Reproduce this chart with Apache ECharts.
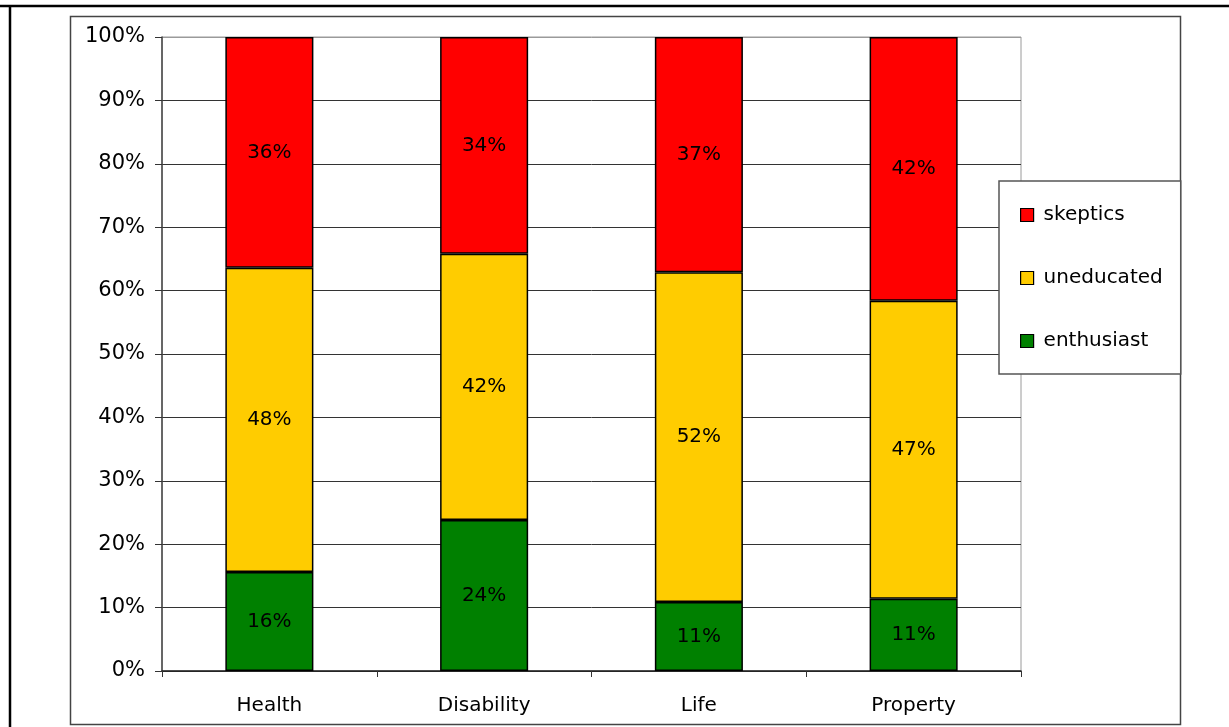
<!DOCTYPE html>
<html>
<head>
<meta charset="utf-8">
<script src="https://cdn.jsdelivr.net/npm/echarts@6/dist/echarts.min.js"></script>
<style>
  html, body { margin: 0; padding: 0; background: #fff; }
  #chart { width: 1229px; height: 727px; }
</style>
</head>
<body>
<div id="chart"></div>
<script>
// Insurance lines on the category axis
const categories = ['Health', 'Disability', 'Life', 'Property'];

// Share of each attitude group per line (percent)
const enthusiast = [15.6, 23.8, 10.9, 11.4];
const uneducated = [48.0, 42.0, 52.0, 47.0];
const skeptics   = [36.4, 34.2, 37.1, 41.6];

// Value axis ticks
const yTicks = [0, 10, 20, 30, 40, 50, 60, 70, 80, 90, 100];

const FONT = 'DejaVu Sans';

function barSeries(name, data, color) {
  return {
    name: name,
    type: 'bar',
    stack: 'total',
    data: data,
    barWidth: '41%',
    itemStyle: { color: color, borderColor: '#000', borderWidth: 1.5 },
    label: {
      show: true,
      position: 'inside',
      color: '#000',
      fontFamily: FONT,
      fontSize: 20,
      formatter: p => Math.round(p.value) + '%'
    },
    emphasis: { disabled: true }
  };
}

// grid lines: dark for inner ticks, grey for the top border of the plot
const splitColors = yTicks.map((t, i) => i === yTicks.length - 1 ? '#9a9a9a' : '#333');

const chart = echarts.init(document.getElementById('chart'));
chart.setOption({
  animation: false,
  backgroundColor: '#fff',
  textStyle: { fontFamily: FONT },
  grid: {
    left: 162, right: 208, top: 37, bottom: 56,
    show: true, borderColor: '#9a9a9a', borderWidth: 1, backgroundColor: 'transparent'
  },
  xAxis: {
    type: 'category',
    data: categories,
    axisLine: { lineStyle: { color: '#222', width: 1.5 } },
    axisTick: { show: true, alignWithLabel: false, length: 6, lineStyle: { color: '#333' } },
    axisLabel: { color: '#000', fontSize: 20, fontFamily: FONT, margin: 25 },
    splitLine: { show: false }
  },
  yAxis: {
    type: 'value',
    min: yTicks[0],
    max: yTicks[yTicks.length - 1],
    interval: yTicks[1] - yTicks[0],
    axisLine: { show: true, lineStyle: { color: '#444', width: 1.5 } },
    axisTick: { show: true, length: 7, lineStyle: { color: '#333' } },
    axisLabel: { color: '#000', fontSize: 21, fontFamily: FONT, margin: 17, formatter: '{value}%' },
    splitLine: { show: true, lineStyle: { color: splitColors, width: 1 } }
  },
  legend: {
    orient: 'vertical',
    left: 999,
    top: 181,
    data: ['skeptics', 'uneducated', 'enthusiast'],
    backgroundColor: '#fff',
    borderColor: '#555',
    borderWidth: 1.5,
    borderRadius: 0,
    padding: [24, 18, 23, 21],
    itemGap: 43,
    itemWidth: 13,
    itemHeight: 13,
    icon: 'rect',
    itemStyle: { borderColor: '#000', borderWidth: 1.2 },
    textStyle: { color: '#000', fontSize: 20, fontFamily: FONT, lineHeight: 20, padding: [0, 0, 0, 5] },
    selectedMode: false
  },
  series: [
    barSeries('enthusiast', enthusiast, '#008000'),
    barSeries('uneducated', uneducated, '#FFCC00'),
    barSeries('skeptics', skeptics, '#FF0000')
  ],
  graphic: [
    // chart frame
    { type: 'rect', shape: { x: 70.5, y: 16.5, width: 1110, height: 708 },
      style: { fill: null, stroke: '#444', lineWidth: 1.5 }, z: -1 },
    // page rules
    { type: 'line', shape: { x1: 0, y1: 6, x2: 1229, y2: 6 },
      style: { stroke: '#000', lineWidth: 2.5 } },
    { type: 'line', shape: { x1: 10, y1: 6, x2: 10, y2: 727 },
      style: { stroke: '#000', lineWidth: 2.5 } }
  ]
});
</script>
</body>
</html>
